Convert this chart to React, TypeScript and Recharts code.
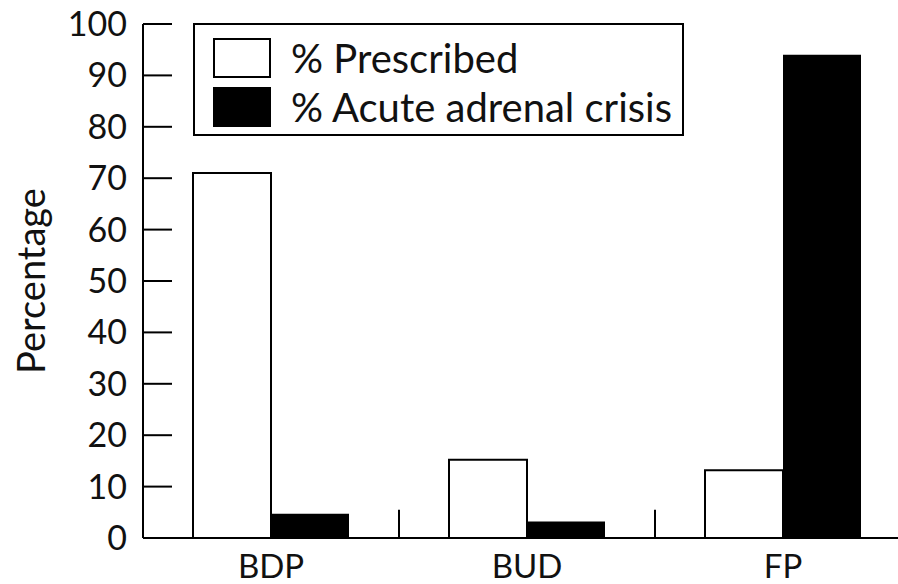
import { Bar, BarChart, Legend, ReferenceLine, XAxis, YAxis } from "recharts";

const categories = ["BDP", "BUD", "FP"];
const prescribed = [71, 15.2, 13.2];
const acuteCrisis = [4.7, 3.2, 94];
const yTicks = [0, 10, 20, 30, 40, 50, 60, 70, 80, 90, 100];
// group boundaries get a short upward tick on the x axis
const separatorAfter = ["BDP", "BUD"];
const separatorHeight = 5.5;
const seriesOrder = ["prescribed", "crisis"];

const data = categories.map((name, i) => ({
  name,
  prescribed: prescribed[i],
  crisis: acuteCrisis[i],
}));

const FONT = "Lato, 'Open Sans', sans-serif";

const YTick = ({ x, y, payload }: any) => (
  <g>
    <line x1={x + 16} x2={x + 45} y1={y} y2={y} stroke="#000" strokeWidth={2} />
    <text x={x} y={y} dy={12} textAnchor="end" fontSize={34} fontFamily={FONT} fill="#111">
      {payload.value}
    </text>
  </g>
);

const XTick = ({ x, y, payload }: any) => (
  <text x={x} y={y} dy={38} textAnchor="middle" fontSize={33} fontFamily={FONT} fill="#111">
    {payload.value}
  </text>
);

const LegendBox = ({ payload }: any) => {
  const items = [...(payload || [])].sort(
    (a: any, b: any) => seriesOrder.indexOf(a.dataKey) - seriesOrder.indexOf(b.dataKey)
  );
  return (
    <div
      style={{
        boxSizing: "border-box",
        width: 491,
        height: 113,
        border: "2px solid #000",
        padding: "12px 0 0 18px",
        fontFamily: FONT,
        fontSize: 40,
        lineHeight: 1,
        color: "#111",
        background: "#fff",
      }}
    >
      {items.map((entry: any, i: number) => (
        <div
          key={entry.value}
          style={{ display: "flex", alignItems: "center", height: 42, marginBottom: i === 0 ? 7 : 0 }}
        >
          <span
            style={{
              display: "inline-block",
              boxSizing: "border-box",
              width: 58,
              height: 40,
              background: entry.color,
              border: "2px solid #000",
              marginRight: 20,
              flexShrink: 0,
            }}
          />
          <span>{entry.value}</span>
        </div>
      ))}
    </div>
  );
};

export default function App() {
  return (
    <div
      style={{ position: "absolute", left: 0, top: 0, width: 898, height: 584, overflow: "hidden", background: "#fff" }}
    >
      <BarChart
        width={912}
        height={584}
        data={data}
        margin={{ top: 24, right: 1, bottom: 0, left: 0 }}
        barGap={0}
        barSize={78}
      >
        <XAxis
          dataKey="name"
          height={46}
          axisLine={{ stroke: "#000", strokeWidth: 2 }}
          tickLine={false}
          tickSize={0}
          tick={<XTick />}
        />
        <YAxis
          width={143}
          domain={[0, 100]}
          ticks={yTicks}
          interval={0}
          axisLine={{ stroke: "#000", strokeWidth: 2 }}
          tickLine={false}
          tickSize={0}
          tickMargin={16}
          tick={<YTick />}
          label={{
            value: "Percentage",
            angle: -90,
            position: "insideLeft",
            offset: 32,
            style: { textAnchor: "middle", fontSize: 38, fontFamily: FONT, fill: "#111" },
          }}
        />
        <Legend
          layout="vertical"
          align="center"
          verticalAlign="middle"
          wrapperStyle={{ left: 193, top: 23, width: 491, height: 113 }}
          content={<LegendBox />}
        />
        <Bar
          dataKey="prescribed"
          name="% Prescribed"
          fill="#fff"
          stroke="#000"
          strokeWidth={2}
          isAnimationActive={false}
        />
        <Bar dataKey="crisis" name="% Acute adrenal crisis" fill="#000" isAnimationActive={false} />
        {separatorAfter.map((c) => (
          <ReferenceLine
            key={c}
            position="end"
            segment={[
              { x: c, y: 0 },
              { x: c, y: separatorHeight },
            ]}
            stroke="#000"
            strokeWidth={2}
          />
        ))}
      </BarChart>
    </div>
  );
}
